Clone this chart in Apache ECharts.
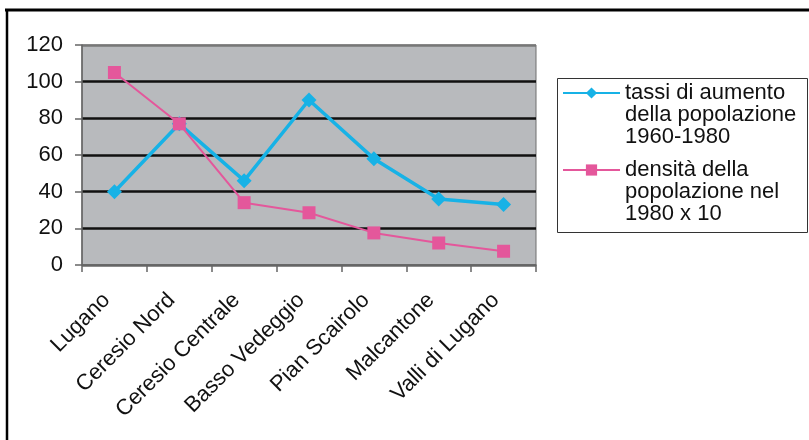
<!DOCTYPE html>
<html>
<head>
<meta charset="utf-8">
<script src="https://cdn.jsdelivr.net/npm/echarts@6/dist/echarts.min.js"></script>
<style>
  html, body { margin: 0; padding: 0; background: #ffffff; }
  #chart { width: 809px; height: 440px; }
</style>
</head>
<body>
<div id="chart"></div>
<script>
// Distretti del Luganese
const categories = ['Lugano', 'Ceresio Nord', 'Ceresio Centrale', 'Basso Vedeggio', 'Pian Scairolo', 'Malcantone', 'Valli di Lugano'];
// tassi di aumento della popolazione 1960-1980
const tassiAumento = [40, 77, 46, 90, 58, 36, 33];
// densità della popolazione nel 1980 x 10
const densita = [105, 77, 34, 28.5, 17.5, 12, 7.5];
const seriesNames = ['tassi di aumento della popolazione 1960-1980', 'densità della popolazione nel 1980 x 10'];
const legendLines = {
  'tassi di aumento della popolazione 1960-1980': ['tassi di aumento', 'della popolazione', '1960-1980'],
  'densità della popolazione nel 1980 x 10': ['densità della', 'popolazione nel', '1980 x 10']
};
const yTicks = { min: 0, max: 120, step: 20 };

const FONT = 'Liberation Sans, Arial, sans-serif';
const chart = echarts.init(document.getElementById('chart'), null, { renderer: 'canvas' });

// The legend text is centred on its icon; two leading blank lines put the
// icon level with the first line of each three-line label.
const legendText = name => '\n\n' + legendLines[name].join('\n');

chart.setOption({
  backgroundColor: '#ffffff',
  animation: false,
  graphic: [
    // outer frame (top and left edges)
    { type: 'line', shape: { x1: 5, y1: 10, x2: 809, y2: 10 }, style: { stroke: '#000', lineWidth: 3 } },
    { type: 'line', shape: { x1: 7, y1: 9, x2: 7, y2: 440 }, style: { stroke: '#000', lineWidth: 2.5 } },
    // legend box
    { type: 'rect', z: -1, shape: { x: 557.5, y: 78.5, width: 250, height: 154 }, style: { fill: '#fff', stroke: '#333', lineWidth: 1 } }
  ],
  grid: {
    left: 82, right: 273, top: 45, bottom: 175,
    show: true, backgroundColor: '#b8babd', borderColor: '#6e6e6e', borderWidth: 1
  },
  legend: {
    orient: 'vertical',
    left: 562, top: 38,
    padding: 0,
    itemWidth: 57, itemHeight: 14, itemGap: -33,
    data: seriesNames,
    formatter: legendText,
    textStyle: { fontFamily: FONT, fontSize: 22, lineHeight: 22, color: '#111' }
  },
  xAxis: {
    type: 'category',
    data: categories,
    boundaryGap: true,
    axisLine: { lineStyle: { color: '#666', width: 1.5 } },
    axisTick: { show: true, length: 7, lineStyle: { color: '#666', width: 1.5 } },
    axisLabel: { rotate: 45, margin: 24, padding: [0, 11, 0, 0], fontFamily: FONT, fontSize: 22, color: '#111', interval: 0 }
  },
  yAxis: {
    type: 'value',
    min: yTicks.min, max: yTicks.max, interval: yTicks.step,
    axisLine: { show: true, lineStyle: { color: '#666', width: 1.5 } },
    axisTick: { show: true, length: 7, lineStyle: { color: '#666', width: 1.5 } },
    axisLabel: { margin: 19, fontFamily: FONT, fontSize: 22, color: '#111' },
    splitLine: { show: true, lineStyle: { color: ['#666', '#111', '#111', '#111', '#111', '#111', '#777'], width: 2.5 } }
  },
  series: [
    {
      name: seriesNames[0], type: 'line', data: tassiAumento,
      symbol: 'diamond', symbolSize: 15,
      lineStyle: { color: '#17b2e6', width: 3.5 },
      itemStyle: { color: '#17b2e6' }
    },
    {
      name: seriesNames[1], type: 'line', data: densita,
      symbol: 'rect', symbolSize: 13,
      lineStyle: { color: '#e4579b', width: 2 },
      itemStyle: { color: '#e4579b' }
    }
  ]
});
</script>
</body>
</html>
